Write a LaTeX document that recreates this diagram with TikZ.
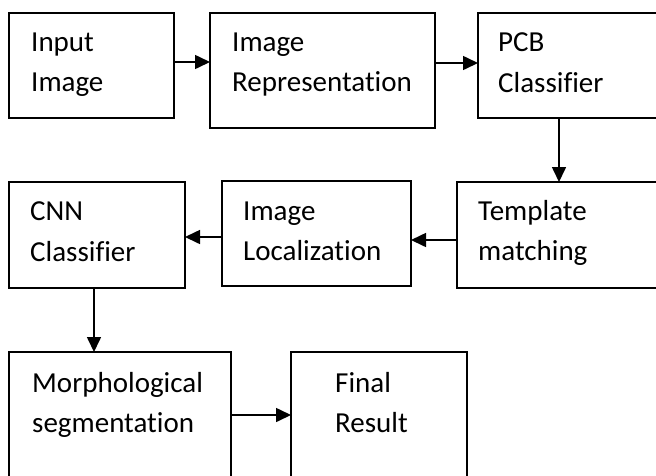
\documentclass[tikz,border=0pt]{standalone}
\usepackage{fontspec}
\setmainfont{Carlito}[Ligatures=NoCommon]
\usetikzlibrary{arrows.meta}
\begin{document}
\begin{tikzpicture}[x=1pt,y=-1pt,
  box/.style={draw,line width=1.6pt,rectangle,inner sep=0pt,outer sep=0pt,anchor=north west},
  txt/.style={anchor=base west,inner sep=0pt,font=\fontsize{29}{40}\selectfont},
  arr/.style={line width=1.6pt,-{Triangle[length=15pt,width=14pt]}}]
\clip (0,0) rectangle (656,475);
\fill[white] (0,0) rectangle (656,475);
% row 1
\node[box,minimum width=165pt,minimum height=105pt] (b1) at (9,13) {};
\node[box,minimum width=225pt,minimum height=115pt] (b2) at (210,13) {};
\node[box,minimum width=195pt,minimum height=105pt] (b3) at (478,13) {};
% row 2
\node[box,minimum width=176pt,minimum height=106pt] (c1) at (9,182) {};
\node[box,minimum width=189pt,minimum height=105pt] (c2) at (222,181) {};
\node[box,minimum width=215pt,minimum height=106pt] (c3) at (457,182) {};
% row 3
\node[box,minimum width=222pt,minimum height=140pt] (d1) at (9,352) {};
\node[box,minimum width=176pt,minimum height=140pt] (d2) at (291,352) {};
% texts
\node[txt] (t1a) at (31,51) {Input};
\node[txt] (t1b) at (31,91) {Image};
\node[txt] (t2a) at (232,51) {Image};
\node[txt] (t2b) at (232,91) {Representation};
\node[txt] (t3a) at (498,51) {PCB};
\node[txt] (t3b) at (498,92) {Classifier};
\node[txt] (u1a) at (30,220) {CNN};
\node[txt] (u1b) at (30,261) {Classifier};
\node[txt] (u2a) at (243,220) {Image};
\node[txt] (u2b) at (243,260) {Localization};
\node[txt] (u3a) at (478,220) {Template};
\node[txt] (u3b) at (478,260) {matching};
\node[txt] (v1a) at (32,392) {Morphological};
\node[txt] (v1b) at (32,432) {segmentation};
\node[txt] (v2a) at (335,392) {Final};
\node[txt] (v2b) at (335,432) {Result};
% arrows
\draw[arr] (b1.east |- 0,62) -- (b2.west |- 0,62);
\draw[arr] (b2.east |- 0,63) -- (b3.west |- 0,63);
\draw[arr] (b3.south -| 559,0) -- (c3.north -| 559,0);
\draw[arr] (c3.west |- 0,240) -- (c2.east |- 0,240);
\draw[arr] (c2.west |- 0,237) -- (c1.east |- 0,237);
\draw[arr] (c1.south -| 94,0) -- (d1.north -| 94,0);
\draw[arr] (d1.east |- 0,415) -- (d2.west |- 0,415);
\end{tikzpicture}
\end{document}
